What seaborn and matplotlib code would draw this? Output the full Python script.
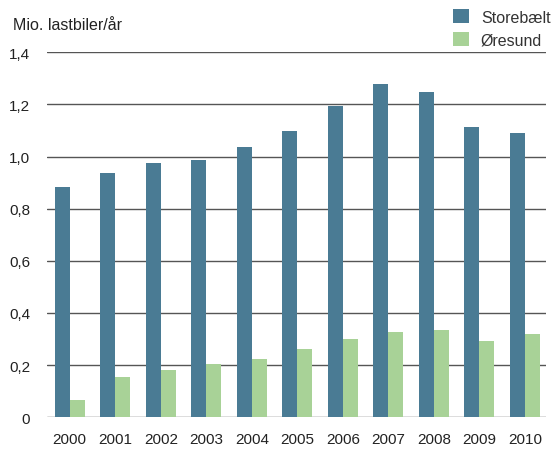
import pandas as pd
import matplotlib.pyplot as plt
import seaborn as sns

sns.set_style("white")
plt.rcParams['font.family'] = ['Liberation Sans', 'DejaVu Sans']

years = ['2000', '2001', '2002', '2003', '2004', '2005', '2006', '2007', '2008', '2009', '2010']
storebaelt = [0.885, 0.938, 0.975, 0.985, 1.038, 1.10, 1.195, 1.28, 1.249, 1.113, 1.09]
oresund = [0.066, 0.154, 0.18, 0.203, 0.224, 0.263, 0.299, 0.328, 0.336, 0.291, 0.318]
series_names = ['Storebælt', 'Øresund']
yticks = [0, 0.2, 0.4, 0.6, 0.8, 1.0, 1.2, 1.4]
ytick_labels = ['0', '0,2', '0,4', '0,6', '0,8', '1,0', '1,2', '1,4']

df = pd.DataFrame({
    'year': years * 2,
    'value': storebaelt + oresund,
    'bridge': [series_names[0]] * len(years) + [series_names[1]] * len(years),
})

palette = {'Storebælt': '#4a7b94', 'Øresund': '#a8d297'}

fig = plt.figure(figsize=(5.58, 4.56), dpi=100)
ax = fig.add_axes([0.0842, 0.083, 0.894, 0.8])

sns.barplot(data=df, x='year', y='value', hue='bridge', palette=palette,
            width=0.66, saturation=1, linewidth=0, ax=ax, zorder=3)

ax.set_ylim(0, 1.4)
ax.set_xlim(-0.5, 10.46)
ax.set_yticks(yticks)
ax.set_yticklabels(ytick_labels)
ax.yaxis.grid(True, color='#555555', linewidth=1.0, zorder=0)
ax.set_axisbelow(True)
for s in ax.spines.values():
    s.set_visible(False)
ax.tick_params(axis='both', length=0, labelsize=11, colors='#222222')
ax.tick_params(axis='y', pad=12)
ax.tick_params(axis='x', pad=11)
ax.set_xlabel('')
ax.set_ylabel('')

fig.text(0.023, 0.945, 'Mio. lastbiler/år', fontsize=11.5, color='#222222', va='center')

ax.legend(loc='upper left', bbox_to_anchor=(453 / 558, 1 - 10 / 456), bbox_transform=fig.transFigure,
          frameon=False, fontsize=11.5, handlelength=1.0, handleheight=1.0,
          handletextpad=0.75, labelspacing=0.45, labelcolor='#333333',
          borderaxespad=0, borderpad=0)

fig.savefig('out.png', dpi=100)
